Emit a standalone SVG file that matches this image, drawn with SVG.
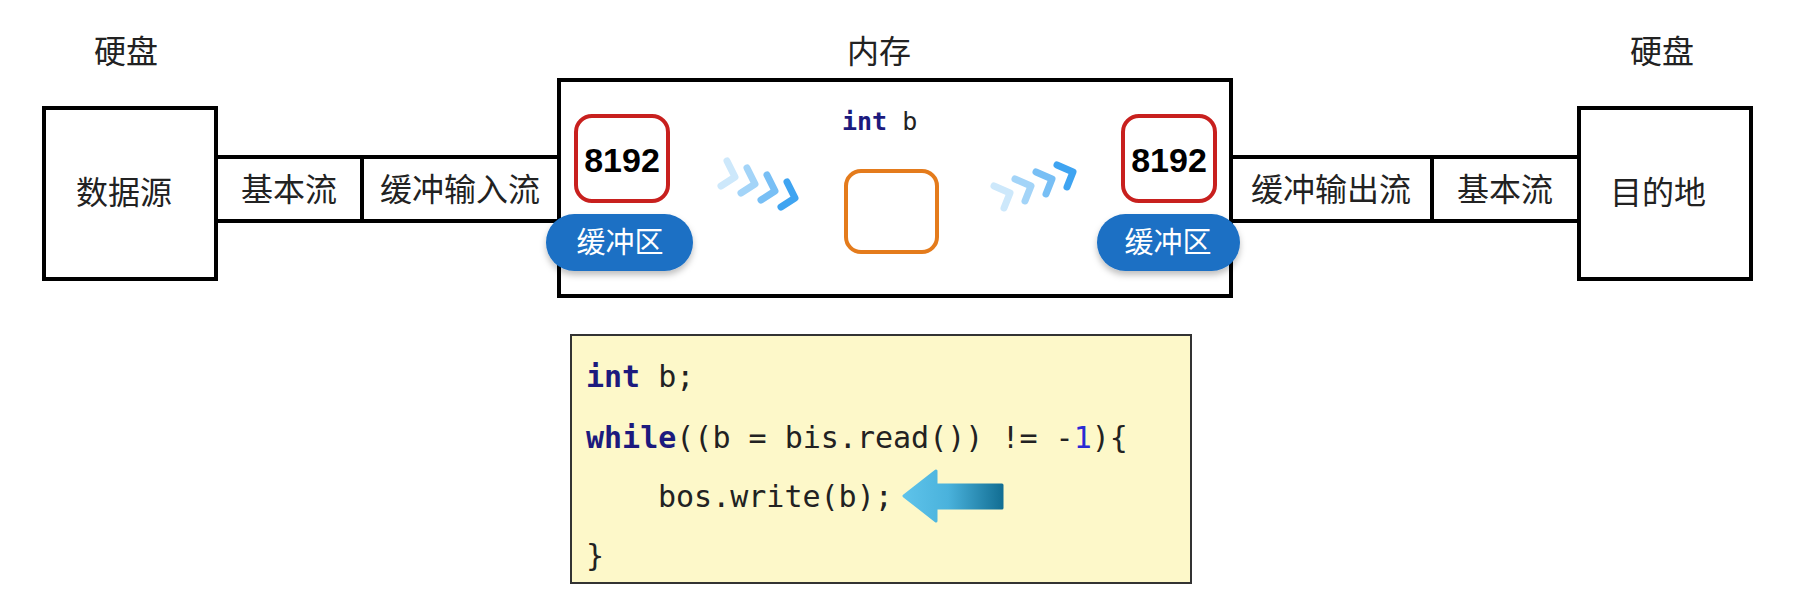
<svg xmlns="http://www.w3.org/2000/svg" width="1801" height="599" viewBox="0 0 1801 599">
<style>
.box{fill:#fff;stroke:#000;stroke-width:4}
.lbl{font-family:"Noto Sans CJK SC","Noto Sans",sans-serif;font-size:32px;fill:#222;text-anchor:middle}
.num{font-family:"Liberation Sans","Noto Sans",sans-serif;font-weight:bold;font-size:34px;fill:#000;text-anchor:middle}
.pilltxt{font-family:"Noto Sans CJK SC",sans-serif;font-size:29px;fill:#fff;text-anchor:middle}
.code{font-family:"DejaVu Sans Mono","Liberation Mono",monospace;font-size:30px;fill:#222}
.kw{fill:#1c1a7e;font-weight:bold}
.redbox{fill:#fff;stroke:#c8201e;stroke-width:4}
.pill{fill:#1a6fc4}
.chev{fill:none;stroke-width:7;stroke-linecap:round;stroke-linejoin:round}
</style>
<defs>
<filter id="sh" x="-20%" y="-20%" width="140%" height="160%">
<feDropShadow dx="0" dy="4" stdDeviation="3" flood-color="#000" flood-opacity="0.25"/>
</filter>
<linearGradient id="arrowg" x1="0" y1="0" x2="1" y2="0">
<stop offset="0" stop-color="#5ec3ea"/>
<stop offset="0.45" stop-color="#4ab2dc"/>
<stop offset="1" stop-color="#136f94"/>
</linearGradient>
</defs>
<rect width="1801" height="599" fill="#fff"/>

<g id="labels">
<text class="lbl" x="126" y="63">硬盘</text>
<text class="lbl" x="879" y="63">内存</text>
<text class="lbl" x="1662" y="63">硬盘</text>
</g>

<g id="connectors">
<rect class="box" x="216" y="157" width="146" height="64"/>
<rect class="box" x="362" y="157" width="197" height="64"/>
<rect class="box" x="1231" y="157" width="201" height="64"/>
<rect class="box" x="1432" y="157" width="147" height="64"/>
<text class="lbl" x="289" y="201">基本流</text>
<text class="lbl" x="460" y="201">缓冲输入流</text>
<text class="lbl" x="1331" y="201">缓冲输出流</text>
<text class="lbl" x="1505" y="201">基本流</text>
</g>

<g id="source">
<rect class="box" x="44" y="108" width="172" height="171"/>
<text class="lbl" x="124" y="204">数据源</text>
</g>

<g id="dest">
<rect class="box" x="1579" y="108" width="172" height="171"/>
<text class="lbl" x="1658" y="204">目的地</text>
</g>

<g id="memory">
<rect class="box" x="559" y="80" width="672" height="216"/>
</g>

<g id="buffer-in">
<rect class="redbox" x="576" y="116" width="92" height="85" rx="16"/>
<text class="num" x="622" y="172">8192</text>
<rect class="pill" x="546" y="214" width="147" height="57" rx="28.5" filter="url(#sh)"/>
<text class="pilltxt" x="620" y="253">缓冲区</text>
</g>

<g id="chevrons-in">
<polyline class="chev" stroke="#cde8fb" points="727,161 735,177 721,186"/>
<polyline class="chev" stroke="#a3d4f8" points="747,168 755,184 741,193"/>
<polyline class="chev" stroke="#78bff5" points="767,175 775,191 761,200"/>
<polyline class="chev" stroke="#3fa4f1" points="787,182 795,198 781,207"/>
</g>

<g id="var-b">
<text class="code" x="842" y="130" style="font-size:25px"><tspan class="kw">int</tspan> b</text>
<rect x="846" y="171" width="91" height="81" rx="15" fill="#fff" stroke="#e47b1c" stroke-width="4"/>
</g>

<g id="chevrons-out">
<polyline class="chev" stroke="#cde8fb" points="994,186 1010,193 1004,208"/>
<polyline class="chev" stroke="#a3d4f8" points="1015,179 1031,186 1025,201"/>
<polyline class="chev" stroke="#78bff5" points="1036,172 1052,179 1046,194"/>
<polyline class="chev" stroke="#3fa4f1" points="1057,165 1073,172 1067,187"/>
</g>

<g id="buffer-out">
<rect class="redbox" x="1123" y="116" width="92" height="85" rx="16"/>
<text class="num" x="1169" y="172">8192</text>
<rect class="pill" x="1097" y="214" width="143" height="57" rx="28.5" filter="url(#sh)"/>
<text class="pilltxt" x="1168" y="253">缓冲区</text>
</g>

<g id="code">
<rect x="571" y="335" width="620" height="248" fill="#fdf8c9" stroke="#333" stroke-width="2"/>
<text class="code" x="586" y="387"><tspan class="kw">int</tspan> b;</text>
<text class="code" x="586" y="448"><tspan class="kw">while</tspan>((b = bis.read()) != -<tspan fill="#2a2ad4">1</tspan>){</text>
<text class="code" x="658" y="507">bos.write(b);</text>
<text class="code" x="586" y="566">}</text>
<path d="M904,496 L936,471 L936,485 L1002,485 L1002,508 L936,508 L936,521 Z" fill="url(#arrowg)" stroke="url(#arrowg)" stroke-width="3" stroke-linejoin="round"/>
</g>
</svg>
